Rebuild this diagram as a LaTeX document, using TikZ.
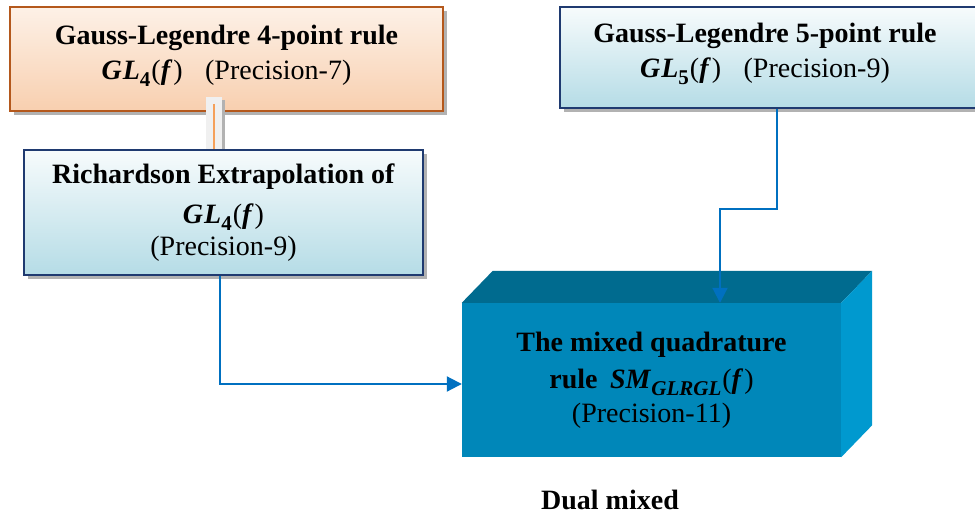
\documentclass[tikz,border=0pt]{standalone}
\usepackage{fontspec}
\setmainfont{Liberation Serif}
\usetikzlibrary{arrows.meta,shadows,calc}
\definecolor{orbord}{HTML}{B4581C}
\definecolor{ortop}{HTML}{FDF1E7}
\definecolor{orbot}{HTML}{F8CFAF}
\definecolor{navy}{HTML}{1F3A70}
\definecolor{bltop}{HTML}{F7FBFC}
\definecolor{blbot}{HTML}{B5DCE6}
\definecolor{arrowblue}{HTML}{0070C0}
\definecolor{cubefront}{HTML}{0087B9}
\definecolor{cubetop}{HTML}{006B8F}
\definecolor{cubeside}{HTML}{0099CF}
\definecolor{conngray}{HTML}{F0F0F0}
\definecolor{connorange}{HTML}{F5A05A}
\newcommand{\sbx}[1]{\raisebox{-7pt}{\fontsize{21}{21}\selectfont\bfseries #1}}
\newcommand{\GLof}[1]{\textbf{\textit{G\kern1pt L}}\sbx{#1}\kern1pt(\textbf{\textit{f}}\kern1pt)}
\begin{document}
\begin{tikzpicture}[x=1pt,y=-1pt,
  orbox/.style={draw=orbord, line width=2.5pt, top color=ortop, bottom color=orbot,
    drop shadow={shadow xshift=4pt, shadow yshift=-4pt, fill=black, opacity=0.3}, inner sep=0pt},
  blbox/.style={draw=navy, line width=2.5pt, top color=bltop, bottom color=blbot,
    drop shadow={shadow xshift=4pt, shadow yshift=-4pt, fill=black, opacity=0.3}, inner sep=0pt},
  txt/.style={font=\fontsize{28}{35}\selectfont, align=center, inner sep=0pt},
  conn/.style={draw=arrowblue, line width=2pt, -{Triangle[length=15pt,width=15pt]}}]
\useasboundingbox[fill=white] (0,0) rectangle (975,516);
% top-left box
\node[orbox, minimum width=433pt, minimum height=104pt] (gl4) at (226.5,59) {};
\node[txt] (gl4t) at (226.5,56) {\textbf{Gauss-Legendre 4-point rule}\\ \GLof{4}\hspace{0.8em}(Precision-7)};
% top-right box
\node[blbox, minimum width=418pt, minimum height=101pt] (gl5) at (769,57.5) {};
\node[txt] (gl5t) at (765,54) {\textbf{Gauss-Legendre 5-point rule}\\ \GLof{5}\hspace{0.8em}(Precision-9)};
% double connector
\coordinate (s1) at (214,97);
\coordinate (s2) at (214,150);
\draw[line width=3pt, black!30] ($(s1)+(9.5,3)$) -- ($(s2)+(9.5,0)$);
\draw[line width=16pt, conngray] (s1) -- (s2);
\draw[line width=2pt, connorange] ($(s1)+(0,7)$) -- (s2);
% Richardson box
\node[blbox, minimum width=399pt, minimum height=125pt] (rich) at (223.5,212.5) {};
\node[txt] (richt) at (223.5,213) {\textbf{Richardson Extrapolation of}\\[5pt] \GLof{4}\\[-3pt] (Precision-9)};
% cube
\node[fill=cubefront, minimum width=379pt, minimum height=154pt, inner sep=0pt] (cube) at (651.5,380) {};
\fill[cubetop] (cube.north west) -- ++(31,-32) -- ($(cube.north east)+(31,-32)$) -- (cube.north east) -- cycle;
\fill[cubeside] (cube.north east) -- ++(31,-32) -- ($(cube.south east)+(31,-32)$) -- (cube.south east) -- cycle;
\node[txt, font=\fontsize{28}{37}\selectfont] (cubet) at (651.5,380) {\textbf{The mixed quadrature}\\ \textbf{rule}\hspace{0.45em}\textbf{\textit{SM}}\sbx{\itshape GLRGL}\kern1pt(\textbf{\textit{f}}\kern1pt)\\[-3pt] (Precision-11)};
% connectors
\draw[conn] ($(rich.south)+(-3.5,0)$) |- ($(cube.west)+(0,4)$);
\draw[conn] ($(gl5.south)+(8,0)$) -- ++(0,100) -| ($(cube.north)+(68.5,0)$);
% caption
\node[txt] (dual) at (610,500) {\textbf{Dual mixed}};
\end{tikzpicture}
\end{document}
